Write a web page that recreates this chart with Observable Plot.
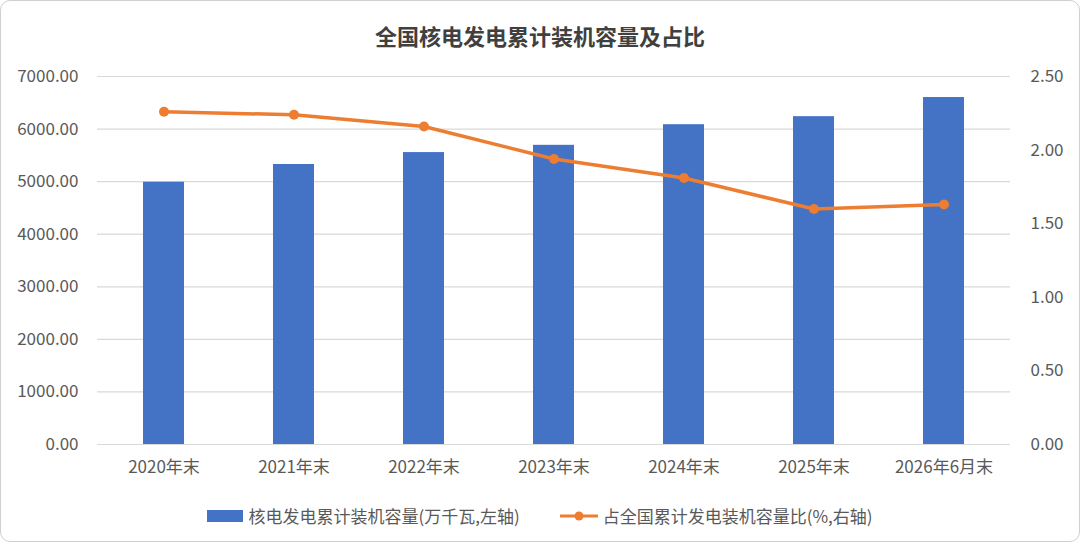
<!DOCTYPE html>
<html><head><meta charset="utf-8">
<script src="https://cdn.jsdelivr.net/npm/d3@7"></script>
<script src="https://cdn.jsdelivr.net/npm/@observablehq/plot@0.6"></script>
<style>
html,body{margin:0;padding:0;background:#fff;}
#wrap{position:relative;width:1078px;height:540px;border:1px solid #d0d0d0;border-radius:10px;overflow:hidden;background:#fff;font-family:"Noto Sans CJK SC","Noto Sans",sans-serif;}
#title{height:60px;line-height:68px;text-align:center;font-size:22px;font-weight:bold;color:#404040;}
#legend{position:absolute;top:502px;left:0;width:1078px;display:flex;justify-content:center;gap:40px;font-size:17px;color:#595959;}
.li{display:flex;align-items:center;gap:5px;}
svg{display:block;}
</style></head><body>
<div id="wrap">
<div id="title">全国核电发电累计装机容量及占比</div>
<div id="chart"></div>
<div id="legend">
<div class="li"><svg width="36" height="14"><rect x="0" y="1" width="36" height="12" fill="#4472C4"/></svg><span>核电发电累计装机容量(万千瓦,左轴)</span></div>
<div class="li"><svg width="38" height="14"><line x1="0" y1="7" x2="38" y2="7" stroke="#ED7D31" stroke-width="3"/><circle cx="19" cy="7" r="4.5" fill="#ED7D31"/></svg><span>占全国累计发电装机容量比(%,右轴)</span></div>
</div>
</div>
<script>
const categories = ["2020年末","2021年末","2022年末","2023年末","2024年末","2025年末","2026年6月末"];
const capacity = [4989, 5326, 5553, 5691, 6083, 6236, 6600];
const share = [2.26, 2.24, 2.16, 1.94, 1.81, 1.60, 1.63];
const leftTicks = [0,1000,2000,3000,4000,5000,6000,7000];
const rightTicks = [0,0.5,1,1.5,2,2.5];
const leftMax = 7000, rightMax = 2.5;
const k = leftMax / rightMax;

const data = categories.map((c,i)=>({cat:c, cap:capacity[i], share:share[i]}));
const font = '"Noto Sans CJK SC","Noto Sans",sans-serif';

const chart = Plot.plot({
  width: 1078, height: 430,
  marginTop: 15, marginBottom: 47, marginLeft: 96, marginRight: 69,
  style: {fontFamily: font, fontSize: "17px", color: "#595959", background: "#fff"},
  x: {domain: categories, paddingInner: 0.685, paddingOuter: 0.3425, label: null},
  y: {domain: [0, leftMax], label: null},
  marks: [
    Plot.ruleY(leftTicks, {stroke: "#d9d9d9", strokeWidth: 1.2}),
    Plot.barY(data, {x: "cat", y: "cap", fill: "#4472C4"}),
    Plot.line(data, {x: "cat", y: d => d.share * k, stroke: "#ED7D31", strokeWidth: 3.5, curve: "linear"}),
    Plot.dot(data, {x: "cat", y: d => d.share * k, fill: "#ED7D31", r: 5}),
    Plot.axisY(leftTicks, {anchor: "left", tickSize: 0, tickPadding: 19, tickFormat: d => d.toFixed(2), label: null, fill: "#595959"}),
    Plot.axisY(rightTicks.map(t => t * k), {anchor: "right", tickSize: 0, tickPadding: 20, tickFormat: d => (d / k).toFixed(2), label: null, textAnchor: "start", fill: "#595959"}),
    Plot.axisX({tickSize: 0, tickPadding: 16, label: null, fill: "#595959"})
  ]
});
document.getElementById("chart").appendChild(chart);
</script>
</body></html>
